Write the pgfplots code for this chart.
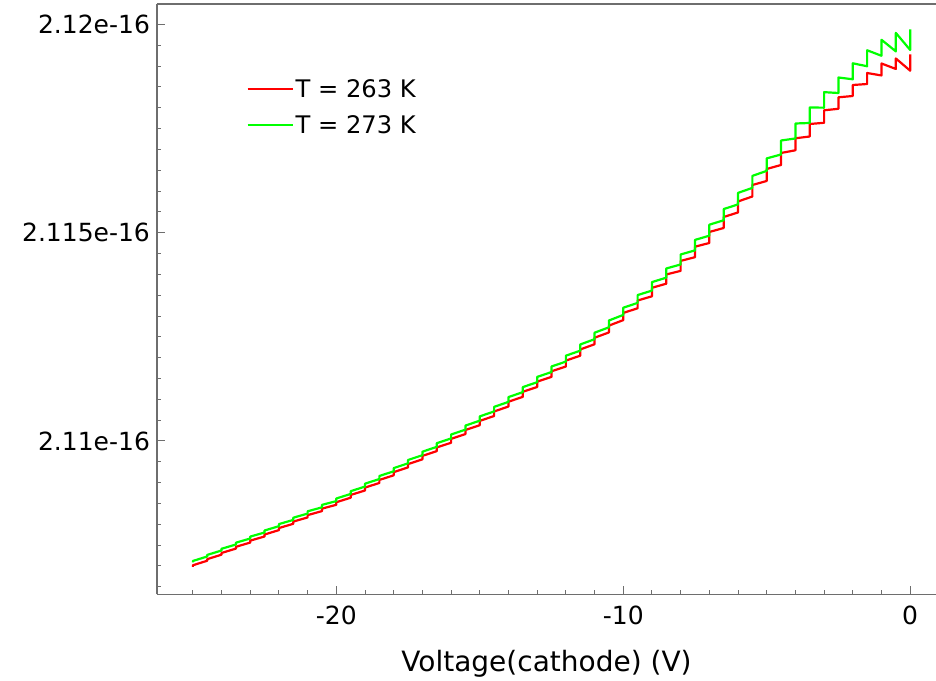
\documentclass[border=0pt]{standalone}
\usepackage{fontspec}
\setmainfont{DejaVu Sans}
\usepackage{pgfplots}
\pgfplotsset{compat=1.18}
\definecolor{pgreen}{RGB}{0,255,0}
\definecolor{pred}{RGB}{255,0,0}
\definecolor{axgray}{RGB}{110,110,110}
\begin{document}
\begin{tikzpicture}
\useasboundingbox (-78.5pt,-42.85pt) rectangle (389.5pt,297.15pt);
\begin{axis}[
  at={(0pt,0pt)}, anchor=south west,
  scale only axis, width=389.5pt, height=295.15pt,
  xmin=-26.25, xmax=0.9, ymin=2.106319, ymax=2.120492,
  axis lines*=left,
  axis line style={axgray, line width=0.75pt},
  tick align=inside,
  xtick={-20,-10,0}, xticklabels={-20,-10,0},
  ytick={2.11,2.115,2.12}, yticklabels={2.11e-16,2.115e-16,2.12e-16},
  minor xtick={-25,-24,-23,-22,-21,-19,-18,-17,-16,-15,-14,-13,-12,-11,-9,-8,-7,-6,-5,-4,-3,-2,-1},
  minor ytick={2.1065,2.107,2.1075,2.108,2.1085,2.109,2.1095,2.1105,2.111,2.1115,2.112,2.1125,2.113,2.1135,2.114,2.1145,2.1155,2.116,2.1165,2.117,2.1175,2.118,2.1185,2.119,2.1195},
  major tick length=4pt, minor tick length=2pt,
  every tick/.style={axgray, line width=0.5pt},
  tick label style={font=\fontsize{12.5}{15}\selectfont, black},
  xticklabel style={yshift=-2.3pt},
  xlabel={Voltage(cathode) (V)},
  xlabel style={font=\fontsize{14}{16}\selectfont, at={(axis description cs:0.5,0)}, anchor=base, yshift=-38.35pt},
  legend style={at={(0.1143,0.8258)}, anchor=west, draw=none, fill=none, inner sep=0pt,
    font=\fontsize{12.1}{14}\selectfont, row sep=4.75pt,
    nodes={inner sep=1pt, text height=10pt, text depth=1.4pt}},
  legend cell align=left,
  legend image code/.code={\draw[#1, line width=1.1pt] (0pt,0pt) -- (22.5pt,0pt);},
]
\draw[axgray, line width=0.75pt] (rel axis cs:0,1) -- (rel axis cs:1,1);
\addplot[pred, line width=1.1pt, line join=round] coordinates {
(-25,2.106980) (-25,2.107016)
(-24.5,2.107125) (-24.5,2.107163)
(-24,2.107271) (-24,2.107312)
(-23.5,2.107416) (-23.5,2.107459)
(-23,2.107562) (-23,2.107608)
(-22.5,2.107707) (-22.5,2.107755)
(-22,2.107860) (-22,2.107910)
(-21.5,2.108012) (-21.5,2.108065)
(-21,2.108165) (-21,2.108220)
(-20.5,2.108317) (-20.5,2.108376)
(-20,2.108468) (-20,2.108530)
(-19.5,2.108638) (-19.5,2.108704)
(-19,2.108812) (-19,2.108882)
(-18.5,2.108992) (-18.5,2.109065)
(-18,2.109176) (-18,2.109253)
(-17.5,2.109366) (-17.5,2.109446)
(-17,2.109559) (-17,2.109643)
(-16.5,2.109756) (-16.5,2.109845)
(-16,2.109958) (-16,2.110052)
(-15.5,2.110166) (-15.5,2.110264)
(-15,2.110380) (-15,2.110483)
(-14.5,2.110600) (-14.5,2.110709)
(-14,2.110828) (-14,2.110943)
(-13.5,2.111060) (-13.5,2.111181)
(-13,2.111297) (-13,2.111424)
(-12.5,2.111539) (-12.5,2.111673)
(-12,2.111788) (-12,2.111930)
(-11.5,2.112048) (-11.5,2.112197)
(-11,2.112323) (-11,2.112479)
(-10.5,2.112606) (-10.5,2.112770)
(-10,2.112902) (-10,2.113075)
(-9.5,2.113186) (-9.5,2.113373)
(-9,2.113474) (-9,2.113678)
(-8.5,2.113777) (-8.5,2.113998)
(-8,2.114084) (-8,2.114324)
(-7.5,2.114413) (-7.5,2.114665)
(-7,2.114754) (-7,2.115018)
(-6.5,2.115114) (-6.5,2.115378)
(-6,2.115487) (-6,2.115751)
(-5.5,2.115870) (-5.5,2.116146)
(-5,2.116243) (-5,2.116531)
(-4.5,2.116627) (-4.5,2.116915)
(-4,2.116980) (-4,2.117268)
(-3.5,2.117311) (-3.5,2.117611)
(-3,2.117640) (-3,2.117940)
(-2.5,2.117976) (-2.5,2.118252)
(-2,2.118283) (-2,2.118547)
(-1.5,2.118571) (-1.5,2.118835)
(-1,2.118776) (-1,2.119064)
(-0.5,2.118932) (-0.5,2.119184)
(0,2.118891) (0,2.119285)
};
\addlegendentry{T = 263 K}
\addplot[pgreen, line width=1.1pt, line join=round] coordinates {
(-25,2.107083) (-25,2.107119)
(-24.5,2.107227) (-24.5,2.107265)
(-24,2.107371) (-24,2.107412)
(-23.5,2.107515) (-23.5,2.107558)
(-23,2.107659) (-23,2.107705)
(-22.5,2.107803) (-22.5,2.107851)
(-22,2.107955) (-22,2.108005)
(-21.5,2.108105) (-21.5,2.108158)
(-21,2.108257) (-21,2.108312)
(-20.5,2.108407) (-20.5,2.108466)
(-20,2.108557) (-20,2.108619)
(-19.5,2.108729) (-19.5,2.108795)
(-19,2.108905) (-19,2.108975)
(-18.5,2.109087) (-18.5,2.109160)
(-18,2.109272) (-18,2.109349)
(-17.5,2.109464) (-17.5,2.109544)
(-17,2.109659) (-17,2.109743)
(-16.5,2.109858) (-16.5,2.109947)
(-16,2.110062) (-16,2.110156)
(-15.5,2.110272) (-15.5,2.110370)
(-15,2.110488) (-15,2.110591)
(-14.5,2.110710) (-14.5,2.110819)
(-14,2.110939) (-14,2.111054)
(-13.5,2.111173) (-13.5,2.111294)
(-13,2.111412) (-13,2.111539)
(-12.5,2.111655) (-12.5,2.111789)
(-12,2.111906) (-12,2.112048)
(-11.5,2.112168) (-11.5,2.112317)
(-11,2.112444) (-11,2.112600)
(-10.5,2.112729) (-10.5,2.112893)
(-10,2.113027) (-10,2.113200)
(-9.5,2.113316) (-9.5,2.113503)
(-9,2.113611) (-9,2.113815)
(-8.5,2.113921) (-8.5,2.114142)
(-8,2.114238) (-8,2.114478)
(-7.5,2.114576) (-7.5,2.114828)
(-7,2.114929) (-7,2.115193)
(-6.5,2.115299) (-6.5,2.115568)
(-6,2.115681) (-6,2.115957)
(-5.5,2.116077) (-5.5,2.116365)
(-5,2.116485) (-5,2.116785)
(-4.5,2.116879) (-4.5,2.117215)
(-4,2.117263) (-4,2.117623)
(-3.5,2.117635) (-3.5,2.118007)
(-3,2.118003) (-3,2.118375)
(-2.5,2.118355) (-2.5,2.118727)
(-2,2.118684) (-2,2.119068)
(-1.5,2.118997) (-1.5,2.119381)
(-1,2.119249) (-1,2.119633)
(-0.5,2.119354) (-0.5,2.119798)
(0,2.119388) (0,2.119885)
};
\addlegendentry{T = 273 K}
\end{axis}
\end{tikzpicture}
\end{document}
